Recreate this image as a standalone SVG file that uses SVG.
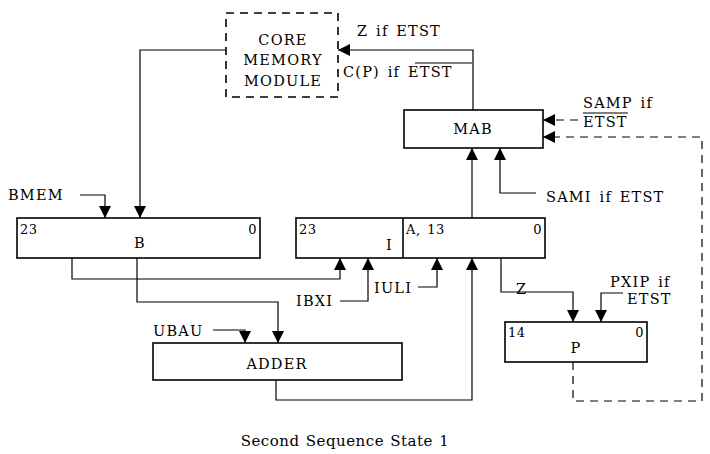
<svg xmlns="http://www.w3.org/2000/svg" width="710" height="454" viewBox="0 0 710 454">
<style>
text{font-family:"DejaVu Serif","Liberation Serif",serif;font-size:14.5px;letter-spacing:1.2px;word-spacing:2px;fill:#000}
.c{text-anchor:middle}
.e{text-anchor:end}
.n{font-size:13px;letter-spacing:0.5px}
.cap{font-size:15px;letter-spacing:0.5px;word-spacing:1px}
.box{fill:#fff;stroke:#000;stroke-width:1.6}
.dbox{fill:#fff;stroke:#000;stroke-width:1.6;stroke-dasharray:8 6}
.w{fill:none;stroke:#000;stroke-width:1.2}
.d{fill:none;stroke:#000;stroke-width:1.2;stroke-dasharray:8 6}
.ol{stroke:#000;stroke-width:1.2}
</style>
<defs>
<marker id="ah" markerWidth="12" markerHeight="12" refX="12" refY="6" orient="auto" markerUnits="userSpaceOnUse">
<path d="M0,0 L12,6 L0,12 Z" fill="#000"/>
</marker>
</defs>
<rect width="710" height="454" fill="#fff"/>
<g id="connectors">
<path class="w" d="M226,50 H140 V218" marker-end="url(#ah)"/>
<path class="w" d="M473,110 V50 H338" marker-end="url(#ah)"/>
<path class="w" d="M80,195 H105 V218" marker-end="url(#ah)"/>
<path class="w" d="M472,218 V148" marker-end="url(#ah)"/>
<path class="w" d="M536,193 H500 V148" marker-end="url(#ah)"/>
<path class="d" d="M578,120 H543" marker-end="url(#ah)"/>
<path class="d" d="M573,362 V401 H702 V137 H543" marker-end="url(#ah)"/>
<path class="w" d="M72,258 V279 H340 V258" marker-end="url(#ah)"/>
<path class="w" d="M340,301 H368 V258" marker-end="url(#ah)"/>
<path class="w" d="M418,287 H437 V258" marker-end="url(#ah)"/>
<path class="w" d="M137,258 V302 H278 V343" marker-end="url(#ah)"/>
<path class="w" d="M213,330 H245 V343" marker-end="url(#ah)"/>
<path class="w" d="M276,380 V400 H472 V258" marker-end="url(#ah)"/>
<path class="w" d="M501,258 V292 H573 V322" marker-end="url(#ah)"/>
<path class="w" d="M623,293 H601 V322" marker-end="url(#ah)"/>
</g>
<g id="core-memory">
<rect class="dbox" x="226" y="13" width="112" height="84"/>
<text class="c" x="283" y="45">CORE</text>
<text class="c" x="283" y="65">MEMORY</text>
<text class="c" x="283" y="86">MODULE</text>
</g>
<g id="labels-core">
<text x="357" y="36">Z if ETST</text>
<text x="343" y="77">C(P) if ETST</text>
<line class="ol" x1="415" y1="63" x2="472" y2="63"/>
</g>
<g id="mab">
<rect class="box" x="404" y="110" width="139" height="38"/>
<text class="c" x="473" y="134">MAB</text>
</g>
<g id="samp">
<text x="583" y="108">SAMP if</text>
<text x="583" y="127">ETST</text>
<line class="ol" x1="583" y1="113" x2="628" y2="113"/>
</g>
<g id="sami"><text x="546" y="202">SAMI if ETST</text></g>
<g id="bmem"><text x="8" y="200">BMEM</text></g>
<g id="b-reg">
<rect class="box" x="17" y="218" width="243" height="40"/>
<text class="n" x="20" y="234">23</text>
<text class="c" x="140" y="248">B</text>
<text class="e n" x="257" y="234">0</text>
</g>
<g id="ia-reg">
<rect class="box" x="296" y="218" width="249" height="40"/>
<line class="ol" x1="403" y1="218" x2="403" y2="258" style="stroke-width:1.6"/>
<text class="n" x="299" y="234">23</text>
<text x="386" y="250">I</text>
<text class="n" x="406" y="234">A, 13</text>
<text class="e n" x="542" y="234">0</text>
</g>
<g id="ibxi"><text x="296" y="306">IBXI</text></g>
<g id="iuli"><text x="374" y="293">IULI</text></g>
<g id="z"><text x="516" y="294">Z</text></g>
<g id="pxip">
<text x="610" y="287">PXIP if</text>
<text x="627" y="304">ETST</text>
</g>
<g id="p-reg">
<rect class="box" x="505" y="322" width="142" height="40"/>
<text class="n" x="508" y="337">14</text>
<text class="c" x="576" y="353">P</text>
<text class="e n" x="644" y="337">0</text>
</g>
<g id="ubau"><text x="153" y="336">UBAU</text></g>
<g id="adder">
<rect class="box" x="153" y="343" width="249" height="37"/>
<text class="c" x="277" y="369">ADDER</text>
</g>
<g id="caption"><text class="c cap" x="345" y="446">Second Sequence State 1</text></g>
</svg>
